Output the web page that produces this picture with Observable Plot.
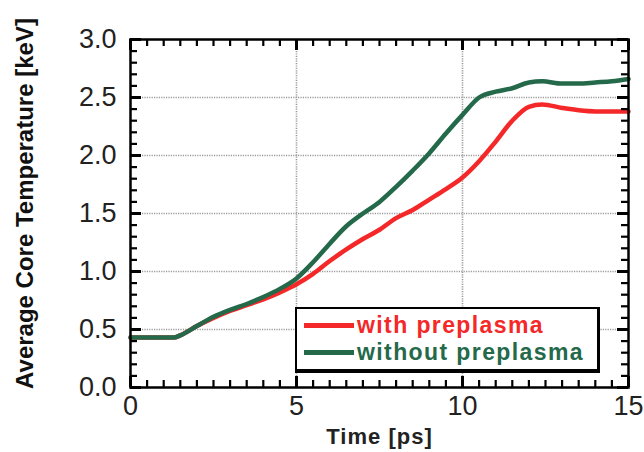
<!DOCTYPE html>
<html>
<head>
<meta charset="utf-8">
<script src="https://cdn.jsdelivr.net/npm/d3@7"></script>
<script src="https://cdn.jsdelivr.net/npm/@observablehq/plot@0.6"></script>
<style>
  body { margin: 0; background: #fff; }
  #wrap { position: relative; width: 644px; height: 452px; font-family: "Liberation Sans", Arial, sans-serif; }
  g[aria-label="x-axis label"] text { font-size: 22px; font-weight: bold; letter-spacing: 1px; }
  #legend { position: absolute; left: 295px; top: 307px; width: 305px; height: 66px; border: 2px solid #000; border-bottom-width: 4px; border-right-width: 3px; background: #fff; box-sizing: border-box; }
  .row { position: absolute; left: 7px; display: flex; align-items: center; font-weight: bold; font-size: 23px; letter-spacing: 1.4px; white-space: nowrap; }
  .row .sw { width: 50px; height: 4.5px; margin-right: 3px; }
</style>
</head>
<body>
<div id="wrap"></div>
<script>
const time = [0, 0.5, 1.0, 1.3, 1.5, 2.0, 2.5, 3.0, 3.5, 4.0, 4.5, 5.0, 5.5, 6.0, 6.5, 7.0, 7.5, 8.0, 8.5, 9.0, 9.5, 10.0, 10.5, 11.0, 11.5, 12.0, 12.4, 13.0, 13.5, 14.0, 14.5, 15.0];
const withPreplasma = [0.43, 0.43, 0.43, 0.43, 0.45, 0.53, 0.60, 0.66, 0.71, 0.76, 0.82, 0.89, 0.98, 1.09, 1.19, 1.28, 1.36, 1.46, 1.53, 1.62, 1.71, 1.81, 1.95, 2.12, 2.30, 2.42, 2.44, 2.41, 2.39, 2.38, 2.38, 2.38];
const withoutPreplasma = [0.43, 0.43, 0.43, 0.43, 0.45, 0.53, 0.61, 0.67, 0.72, 0.78, 0.85, 0.94, 1.08, 1.24, 1.39, 1.50, 1.60, 1.73, 1.87, 2.02, 2.19, 2.35, 2.50, 2.55, 2.58, 2.63, 2.64, 2.62, 2.62, 2.63, 2.64, 2.66];
const seriesNames = ["with preplasma", "without preplasma"];
const seriesColors = ["#f42828", "#24694a"];
const xTitle = "Time [ps]";
const yTitle = "Average Core Temperature [keV]";
const xTicks = [0, 5, 10, 15];
const yTicks = [0, 0.5, 1.0, 1.5, 2.0, 2.5, 3.0];
const xGrid = [5, 10];
const yGrid = [0.5, 1.0, 1.5, 2.0, 2.5];
const xMinorTicks = [0.5,1,1.5,2,2.5,3,3.5,4,4.5,5.5,6,6.5,7,7.5,8,8.5,9,9.5,10.5,11,11.5,12,12.5,13,13.5,14,14.5];
const yMinorTicks = [0.1,0.2,0.3,0.4,0.6,0.7,0.8,0.9,1.1,1.2,1.3,1.4,1.6,1.7,1.8,1.9,2.1,2.2,2.3,2.4,2.6,2.7,2.8,2.9];

const data = [];
time.forEach((t, i) => {
  data.push({t, v: withPreplasma[i], s: seriesNames[0]});
  data.push({t, v: withoutPreplasma[i], s: seriesNames[1]});
});

const W = 644, H = 452, mL = 130, mR = 16, mT = 39, mB = 65;
const iw = W - mL - mR, ih = H - mT - mB;
const minor = 7, major = 11;

const chart = Plot.plot({
  width: W, height: H,
  marginLeft: mL, marginRight: mR, marginTop: mT, marginBottom: mB,
  style: {fontFamily: "Liberation Sans, Arial, sans-serif", color: "#000", background: "#fff"},
  x: {domain: [0, 15]},
  y: {domain: [0, 3]},
  color: {domain: seriesNames, range: seriesColors},
  marks: [
    Plot.ruleX(xGrid, {stroke: "#9a9a9a", strokeWidth: 1.6, strokeDasharray: "1.2,1.2"}),
    Plot.ruleY(yGrid, {stroke: "#9a9a9a", strokeWidth: 1.6, strokeDasharray: "1.2,1.2"}),
    Plot.line(data, {x: "t", y: "v", z: "s", stroke: "s", strokeWidth: 4.5, curve: "monotone-x"}),
    Plot.ruleX(xMinorTicks, {stroke: "#000", strokeWidth: 2.2, insetTop: ih - minor}),
    Plot.ruleX(xMinorTicks, {stroke: "#000", strokeWidth: 2.2, insetBottom: ih - minor}),
    Plot.ruleX(xTicks, {stroke: "#000", strokeWidth: 3, insetTop: ih - major}),
    Plot.ruleX(xTicks, {stroke: "#000", strokeWidth: 3, insetBottom: ih - major}),
    Plot.ruleY(yMinorTicks, {stroke: "#000", strokeWidth: 2.2, insetRight: iw - minor}),
    Plot.ruleY(yMinorTicks, {stroke: "#000", strokeWidth: 2.2, insetLeft: iw - minor}),
    Plot.ruleY(yTicks, {stroke: "#000", strokeWidth: 3, insetRight: iw - major}),
    Plot.ruleY(yTicks, {stroke: "#000", strokeWidth: 3, insetLeft: iw - major}),
    Plot.frame({stroke: "#000", strokeWidth: 2.5}),
    Plot.axisX({ticks: xTicks, tickSize: 0, tickPadding: 8, fontSize: 27, fill: "#222",
      label: xTitle, labelAnchor: "center", labelOffset: 56, labelArrow: "none"}),
    Plot.axisY({ticks: yTicks, tickSize: 0, tickPadding: 14, fontSize: 27, fill: "#222",
      tickFormat: d3.format(".1f"), label: null}),
    Plot.text([yTitle], {text: d => d, frameAnchor: "left", textAnchor: "middle", lineAnchor: "middle",
      rotate: -90, dx: -105, dy: -10, fontSize: 24, fontWeight: "bold", fill: "#111"})
  ]
});

const wrap = document.getElementById("wrap");
wrap.appendChild(chart);

const legend = document.createElement("div");
legend.id = "legend";
seriesNames.forEach((name, i) => {
  const row = document.createElement("div");
  row.className = "row";
  row.style.top = (i === 0 ? 3 : 30) + "px";
  row.style.color = seriesColors[i];
  const sw = document.createElement("span");
  sw.className = "sw";
  sw.style.background = seriesColors[i];
  const tx = document.createElement("span");
  tx.textContent = name;
  row.appendChild(sw);
  row.appendChild(tx);
  legend.appendChild(row);
});
wrap.appendChild(legend);
</script>
</body>
</html>
